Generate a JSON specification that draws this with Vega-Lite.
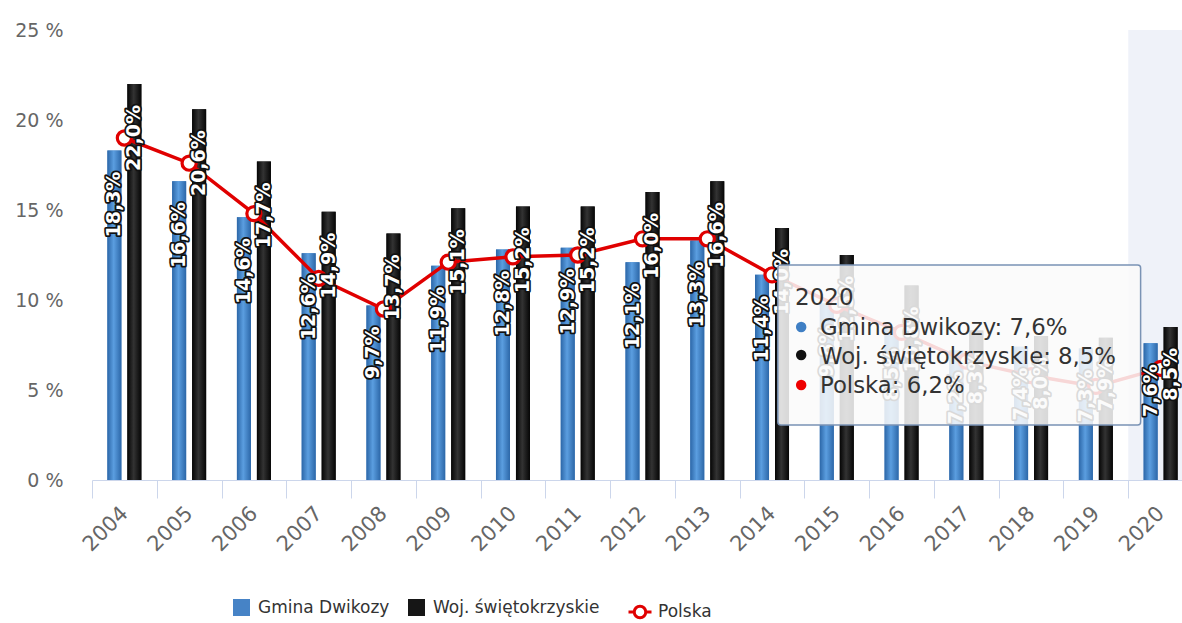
{
  "$schema": "https://vega.github.io/schema/vega-lite/v6.json",
  "width": 1090,
  "height": 450,
  "autosize": {"type": "none"},
  "padding": {"left": 92, "top": 30, "right": 0, "bottom": 143},
  "background": "white",
  "config": {"view": {"stroke": null}, "font": "DejaVu Sans"},
  "data": {"values": [
    {"year": "2004", "series": "Gmina Dwikozy", "value": 18.3},
    {"year": "2005", "series": "Gmina Dwikozy", "value": 16.6},
    {"year": "2006", "series": "Gmina Dwikozy", "value": 14.6},
    {"year": "2007", "series": "Gmina Dwikozy", "value": 12.6},
    {"year": "2008", "series": "Gmina Dwikozy", "value": 9.7},
    {"year": "2009", "series": "Gmina Dwikozy", "value": 11.9},
    {"year": "2010", "series": "Gmina Dwikozy", "value": 12.8},
    {"year": "2011", "series": "Gmina Dwikozy", "value": 12.9},
    {"year": "2012", "series": "Gmina Dwikozy", "value": 12.1},
    {"year": "2013", "series": "Gmina Dwikozy", "value": 13.3},
    {"year": "2014", "series": "Gmina Dwikozy", "value": 11.4},
    {"year": "2015", "series": "Gmina Dwikozy", "value": 9.8},
    {"year": "2016", "series": "Gmina Dwikozy", "value": 8.5},
    {"year": "2017", "series": "Gmina Dwikozy", "value": 7.2},
    {"year": "2018", "series": "Gmina Dwikozy", "value": 7.4},
    {"year": "2019", "series": "Gmina Dwikozy", "value": 7.3},
    {"year": "2020", "series": "Gmina Dwikozy", "value": 7.6},
    {"year": "2004", "series": "Woj. świętokrzyskie", "value": 22.0},
    {"year": "2005", "series": "Woj. świętokrzyskie", "value": 20.6},
    {"year": "2006", "series": "Woj. świętokrzyskie", "value": 17.7},
    {"year": "2007", "series": "Woj. świętokrzyskie", "value": 14.9},
    {"year": "2008", "series": "Woj. świętokrzyskie", "value": 13.7},
    {"year": "2009", "series": "Woj. świętokrzyskie", "value": 15.1},
    {"year": "2010", "series": "Woj. świętokrzyskie", "value": 15.2},
    {"year": "2011", "series": "Woj. świętokrzyskie", "value": 15.2},
    {"year": "2012", "series": "Woj. świętokrzyskie", "value": 16.0},
    {"year": "2013", "series": "Woj. świętokrzyskie", "value": 16.6},
    {"year": "2014", "series": "Woj. świętokrzyskie", "value": 14.0},
    {"year": "2015", "series": "Woj. świętokrzyskie", "value": 12.5},
    {"year": "2016", "series": "Woj. świętokrzyskie", "value": 10.8},
    {"year": "2017", "series": "Woj. świętokrzyskie", "value": 8.3},
    {"year": "2018", "series": "Woj. świętokrzyskie", "value": 8.0},
    {"year": "2019", "series": "Woj. świętokrzyskie", "value": 7.9},
    {"year": "2020", "series": "Woj. świętokrzyskie", "value": 8.5},
    {"year": "2004", "series": "Polska", "value": 19.0},
    {"year": "2005", "series": "Polska", "value": 17.6},
    {"year": "2006", "series": "Polska", "value": 14.8},
    {"year": "2007", "series": "Polska", "value": 11.2},
    {"year": "2008", "series": "Polska", "value": 9.5},
    {"year": "2009", "series": "Polska", "value": 12.1},
    {"year": "2010", "series": "Polska", "value": 12.4},
    {"year": "2011", "series": "Polska", "value": 12.5},
    {"year": "2012", "series": "Polska", "value": 13.4},
    {"year": "2013", "series": "Polska", "value": 13.4},
    {"year": "2014", "series": "Polska", "value": 11.4},
    {"year": "2015", "series": "Polska", "value": 9.7},
    {"year": "2016", "series": "Polska", "value": 8.2},
    {"year": "2017", "series": "Polska", "value": 6.6},
    {"year": "2018", "series": "Polska", "value": 5.8},
    {"year": "2019", "series": "Polska", "value": 5.2},
    {"year": "2020", "series": "Polska", "value": 6.2}
  ]},
  "layer": [
    {
      "transform": [{"filter": "datum.year == '2020' && datum.series == 'Polska'"}],
      "mark": {"type": "bar", "color": "rgba(204,214,235,0.32)"},
      "encoding": {
        "x": {"field": "year", "type": "nominal",
          "scale": {"range": [0, 1101], "paddingInner": 0, "paddingOuter": 0},
          "axis": {"title": null, "tickBand": "extent", "domainColor": "#ccd6eb", "tickColor": "#ccd6eb", "tickSize": 18, "labelAngle": -45, "labelAlign": "right", "labelBaseline": "middle", "labelFontSize": 21, "labelColor": "#666666", "labelPadding": 12, "grid": false, "labelFont": "DejaVu Sans"}},
        "y": {"datum": 25, "type": "quantitative",
          "scale": {"domain": [0, 25], "nice": false},
          "axis": {"title": null, "values": [0, 5, 10, 15, 20, 25], "labelExpr": "datum.value + ' %'", "domain": false, "ticks": false, "gridColor": "#e6e6e6", "labelColor": "#666666", "labelFontSize": 19, "labelPadding": 29, "labelFont": "DejaVu Sans"}},
        "y2": {"datum": 0}
      }
    },
    {
      "transform": [{"filter": "datum.series != 'Polska'"}],
      "mark": {"type": "bar"},
      "encoding": {
        "x": {"field": "year", "type": "nominal"},
        "xOffset": {"field": "series", "type": "nominal", "scale": {"paddingInner": 0.3, "paddingOuter": 0.77}},
        "y": {"field": "value", "type": "quantitative"},
        "color": {"field": "series", "type": "nominal",
          "scale": {"domain": ["Gmina Dwikozy", "Woj. świętokrzyskie"], "range": ["#4683c6", "#161616"]},
          "legend": {"title": null, "orient": "none", "legendX": 141, "legendY": 569, "direction": "horizontal", "symbolType": "square", "symbolSize": 289, "symbolStrokeWidth": 0, "symbolOpacity": 1, "labelFontSize": 17, "labelColor": "#333333", "labelFont": "DejaVu Sans", "labelLimit": 400, "columnPadding": 18, "labelOffset": 8}}
      }
    },
    {
      "transform": [{"filter": "datum.series == 'Gmina Dwikozy'"}],
      "mark": {"type": "bar", "color": {"gradient": "linear", "x1": 0, "x2": 1, "y1": 0, "y2": 0, "stops": [{"offset": 0, "color": "#2c67a8"}, {"offset": 0.45, "color": "#5b9ee0"}, {"offset": 1, "color": "#2c67a8"}]}},
      "encoding": {
        "x": {"field": "year", "type": "nominal"},
        "xOffset": {"field": "series", "type": "nominal"},
        "y": {"field": "value", "type": "quantitative"}
      }
    },
    {
      "transform": [{"filter": "datum.series == 'Woj. świętokrzyskie'"}],
      "mark": {"type": "bar", "color": {"gradient": "linear", "x1": 0, "x2": 1, "y1": 0, "y2": 0, "stops": [{"offset": 0, "color": "#050505"}, {"offset": 0.45, "color": "#333333"}, {"offset": 1, "color": "#050505"}]}},
      "encoding": {
        "x": {"field": "year", "type": "nominal"},
        "xOffset": {"field": "series", "type": "nominal"},
        "y": {"field": "value", "type": "quantitative"}
      }
    },
    {
      "transform": [{"filter": "datum.series == 'Polska'"}],
      "mark": {"type": "line", "strokeWidth": 3.5},
      "encoding": {
        "x": {"field": "year", "type": "nominal"},
        "y": {"field": "value", "type": "quantitative"},
        "stroke": {"field": "series", "type": "nominal", "scale": {"range": ["#e00000"]},
          "legend": {"title": null, "orient": "none", "legendX": 535, "legendY": 569, "symbolType": "M-1,0L-0.5,0M0.5,0L1,0M-0.5,0A0.5,0.5 0 1,1 0.5,0A0.5,0.5 0 1,1 -0.5,0", "symbolSize": 529, "symbolStrokeWidth": 3, "symbolFillColor": "white", "labelFontSize": 17, "labelOffset": 5, "labelColor": "#333333", "labelFont": "DejaVu Sans"}}
      }
    },
    {
      "transform": [{"filter": "datum.series == 'Polska'"}],
      "mark": {"type": "point", "shape": "circle", "filled": true, "fill": "white", "stroke": "#e00000", "strokeWidth": 3.2, "size": 200, "opacity": 1},
      "encoding": {
        "x": {"field": "year", "type": "nominal"},
        "y": {"field": "value", "type": "quantitative"}
      }
    },
    {
      "transform": [{"filter": "datum.series != 'Polska'"}, {"calculate": "replace(format(datum.value, '.1f'), '.', ',') + '%'", "as": "label"}],
      "mark": {"type": "text", "angle": 270, "align": "right", "baseline": "middle", "dx": -21, "fontSize": 19, "fontWeight": "bold", "fill": "#111111", "stroke": "#111111", "strokeWidth": 3.5, "strokeJoin": "round", "font": "DejaVu Sans"},
      "encoding": {
        "x": {"field": "year", "type": "nominal"},
        "xOffset": {"field": "series", "type": "nominal"},
        "y": {"field": "value", "type": "quantitative"},
        "text": {"field": "label"}
      }
    },
    {
      "transform": [{"filter": "datum.series != 'Polska'"}, {"calculate": "replace(format(datum.value, '.1f'), '.', ',') + '%'", "as": "label"}],
      "mark": {"type": "text", "angle": 270, "align": "right", "baseline": "middle", "dx": -21, "fontSize": 19, "fontWeight": "bold", "fill": "white", "font": "DejaVu Sans"},
      "encoding": {
        "x": {"field": "year", "type": "nominal"},
        "xOffset": {"field": "series", "type": "nominal"},
        "y": {"field": "value", "type": "quantitative"},
        "text": {"field": "label"}
      }
    },
    {
      "transform": [{"filter": "datum.year == '2020' && datum.series == 'Polska'"}],
      "mark": {"type": "rect", "fill": "rgba(250,250,250,0.86)", "stroke": "#7a93b5", "strokeWidth": 1.5, "cornerRadius": 3, "x2Offset": -20},
      "encoding": {
        "x": {"datum": "2014", "type": "nominal", "bandPosition": 0.59},
        "x2": {"datum": "2020"},
        "y": {"datum": 11.94, "type": "quantitative"},
        "y2": {"datum": 3.06}
      }
    },
    {
      "transform": [{"filter": "datum.year == '2020' && datum.series == 'Polska'"}],
      "mark": {"type": "text", "text": "2020", "align": "left", "baseline": "alphabetic", "fontSize": 23, "fill": "#333333", "font": "DejaVu Sans"},
      "encoding": {
        "x": {"datum": "2014", "type": "nominal", "bandPosition": 0.855},
        "y": {"datum": 9.72, "type": "quantitative"}
      }
    },
    {
      "transform": [{"filter": "datum.year == '2020' && datum.series == 'Polska'"}],
      "mark": {"type": "text", "text": ["Gmina Dwikozy: 7,6%", "Woj. świętokrzyskie: 8,5%", "Polska: 6,2%"], "lineHeight": 29, "align": "left", "baseline": "alphabetic", "fontSize": 22.8, "fill": "#333333", "font": "DejaVu Sans"},
      "encoding": {
        "x": {"datum": "2015", "type": "nominal", "bandPosition": 0.24},
        "y": {"datum": 8.06, "type": "quantitative"}
      }
    },
    {
      "transform": [{"filter": "datum.year == '2020' && datum.series == 'Polska'"}],
      "mark": {"type": "point", "shape": "circle", "filled": true, "size": 110, "color": "#3f7fc4", "opacity": 1},
      "encoding": {
        "x": {"datum": "2014", "type": "nominal", "bandPosition": 0.95},
        "y": {"datum": 8.5, "type": "quantitative"}
      }
    },
    {
      "transform": [{"filter": "datum.year == '2020' && datum.series == 'Polska'"}],
      "mark": {"type": "point", "shape": "circle", "filled": true, "size": 110, "color": "#111111", "opacity": 1},
      "encoding": {
        "x": {"datum": "2014", "type": "nominal", "bandPosition": 0.95},
        "y": {"datum": 6.94, "type": "quantitative"}
      }
    },
    {
      "transform": [{"filter": "datum.year == '2020' && datum.series == 'Polska'"}],
      "mark": {"type": "point", "shape": "circle", "filled": true, "size": 110, "color": "#ee0000", "opacity": 1},
      "encoding": {
        "x": {"datum": "2014", "type": "nominal", "bandPosition": 0.95},
        "y": {"datum": 5.28, "type": "quantitative"}
      }
    }
  ]
}
